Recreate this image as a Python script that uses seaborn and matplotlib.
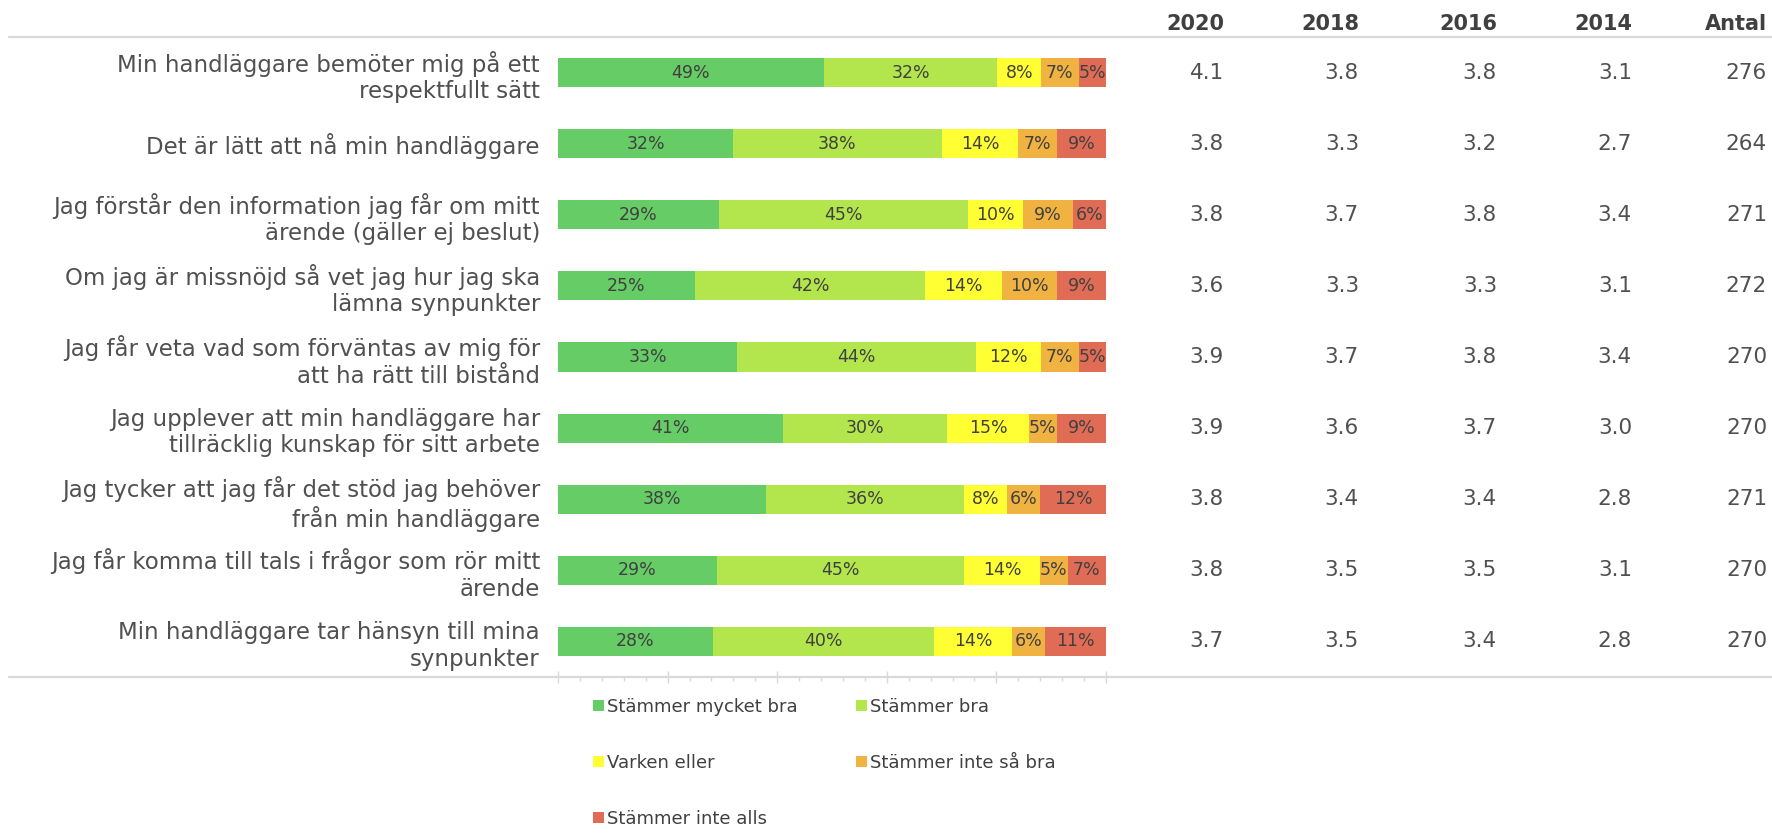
import numpy as np
import pandas as pd
import matplotlib
matplotlib.use("Agg")
import matplotlib.pyplot as plt
from matplotlib.lines import Line2D
from matplotlib.patches import Patch
from matplotlib.ticker import MultipleLocator
import seaborn as sns

# --- data ---
questions = [
    "Min handläggare bemöter mig på ett\nrespektfullt sätt",
    "Det är lätt att nå min handläggare",
    "Jag förstår den information jag får om mitt\närende (gäller ej beslut)",
    "Om jag är missnöjd så vet jag hur jag ska\nlämna synpunkter",
    "Jag får veta vad som förväntas av mig för\natt ha rätt till bistånd",
    "Jag upplever att min handläggare har\ntillräcklig kunskap för sitt arbete",
    "Jag tycker att jag får det stöd jag behöver\nfrån min handläggare",
    "Jag får komma till tals i frågor som rör mitt\närende",
    "Min handläggare tar hänsyn till mina\nsynpunkter",
]
categories = ["Stämmer mycket bra", "Stämmer bra", "Varken eller",
              "Stämmer inte så bra", "Stämmer inte alls"]
mycket_bra = [49, 32, 29, 25, 33, 41, 38, 29, 28]
bra = [32, 38, 45, 42, 44, 30, 36, 45, 40]
varken = [8, 14, 10, 14, 12, 15, 8, 14, 14]
inte_sa_bra = [7, 7, 9, 10, 7, 5, 6, 5, 6]
inte_alls = [5, 9, 6, 9, 5, 9, 12, 7, 11]

year_cols = ["2020", "2018", "2016", "2014", "Antal"]
v2020 = ["4.1", "3.8", "3.8", "3.6", "3.9", "3.9", "3.8", "3.8", "3.7"]
v2018 = ["3.8", "3.3", "3.7", "3.3", "3.7", "3.6", "3.4", "3.5", "3.5"]
v2016 = ["3.8", "3.2", "3.8", "3.3", "3.8", "3.7", "3.4", "3.5", "3.4"]
v2014 = ["3.1", "2.7", "3.4", "3.1", "3.4", "3.0", "2.8", "3.1", "2.8"]
antal = ["276", "264", "271", "272", "270", "270", "271", "270", "270"]

colors = ["#66cc66", "#b3e64c", "#ffff33", "#f0b241", "#e16c56"]

W, H = 1772, 833
sns.set_theme(style="white")
plt.rcParams["font.family"] = ["DejaVu Sans"]

fig = plt.figure(figsize=(W / 100, H / 100), dpi=100)
ax = fig.add_axes([558 / W, 1 - 677 / H, 548 / W, 640 / H])

shares = np.array([mycket_bra, bra, varken, inte_sa_bra, inte_alls], dtype=float)
shares = shares / shares.sum(axis=0)  # bars fill 100 %
cum = np.cumsum(shares, axis=0)

# stacked bars: draw cumulative totals from the longest down
for k in range(len(categories) - 1, -1, -1):
    df = pd.DataFrame({"question": questions, "value": cum[k]})
    sns.barplot(data=df, x="value", y="question", color=colors[k],
                width=0.41, saturation=1, linewidth=0, ax=ax)

raw = [mycket_bra, bra, varken, inte_sa_bra, inte_alls]
for k in range(len(categories)):
    for i in range(len(questions)):
        left = cum[k][i] - shares[k][i]
        ax.text(left + shares[k][i] / 2, i, f"{raw[k][i]}%", ha="center",
                va="center", fontsize=12.5, color="#404040")

ax.set_xlim(0, 1)
ax.set_xlabel("")
ax.set_ylabel("")
for s in ax.spines.values():
    s.set_visible(False)
ax.xaxis.set_major_locator(MultipleLocator(0.2))
ax.xaxis.set_minor_locator(MultipleLocator(0.04))
ax.tick_params(axis="x", which="major", direction="inout", length=8,
               color="#d9d9d9", width=1, labelbottom=False, bottom=True)
ax.tick_params(axis="x", which="minor", direction="out", length=3,
               color="#d9d9d9", width=1, bottom=True)
ax.tick_params(axis="y", length=0, pad=13, labelsize=16.5, labelcolor="#505050")

# horizontal rules
for yy in (37, 677):
    fig.add_artist(Line2D([9 / W, 1], [1 - yy / H] * 2, transform=fig.transFigure,
                          color="#d9d9d9", lw=1.6))

# table columns on the right
col_right = [1224, 1359, 1497, 1632, 1767]
col_values = [v2020, v2018, v2016, v2014, antal]
tr = matplotlib.transforms.blended_transform_factory(fig.transFigure, ax.transData)
for name, xr, vals in zip(year_cols, col_right, col_values):
    fig.text(xr / W, 1 - 24 / H, name, ha="right", va="center", fontsize=15,
             fontweight="bold", color="#404040")
    for i, v in enumerate(vals):
        ax.text(xr / W, i, v, transform=tr, ha="right", va="center",
                fontsize=15.5, color="#505050")

# legend, row-major like the reference
handles = [Patch(facecolor=c, edgecolor="none") for c in colors]
order = [0, 2, 4, 1, 3]
fig.legend([handles[i] for i in order], [categories[i] for i in order],
           ncol=2, loc="upper left", bbox_to_anchor=(593 / W, 1 - 698 / H),
           bbox_transform=fig.transFigure, frameon=False, fontsize=13,
           handlelength=0.6, handleheight=0.6, handletextpad=0.2,
           labelspacing=2.1, columnspacing=3.2, borderpad=0, borderaxespad=0,
           labelcolor="#404040")

fig.savefig("out.png", dpi=100)
